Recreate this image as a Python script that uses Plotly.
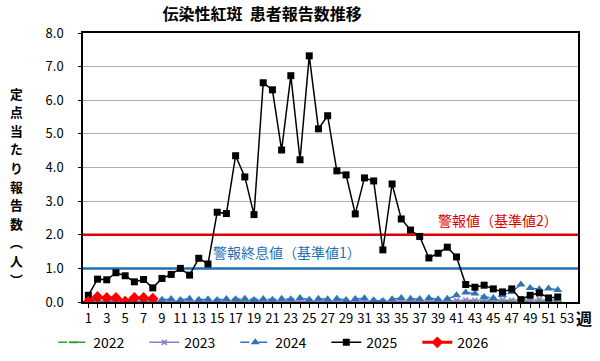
import plotly.graph_objects as go

weeks = list(range(1, 54))

y2022 = [0.00, 0.01, 0.00, 0.01, 0.00, 0.01, 0.00, 0.01, 0.00, 0.01, 0.01, 0.00, 0.01, 0.00, 0.01, 0.00, 0.01, 0.01,
         0.00, 0.01, 0.00, 0.01, 0.00, 0.01, 0.00, 0.01, 0.00, 0.01, 0.00, 0.01, 0.00, 0.01, 0.00, 0.01, 0.00, 0.01,
         0.00, 0.01, 0.00, 0.01, 0.00, 0.01, 0.00, 0.01, 0.00, 0.01, 0.00, 0.01, 0.00, 0.01, 0.00, 0.01]
y2023 = [0.02, 0.03, 0.02, 0.03, 0.02, 0.02, 0.03, 0.02, 0.03, 0.02, 0.03, 0.02, 0.03, 0.02, 0.03, 0.02, 0.05, 0.04,
         0.05, 0.03, 0.02, 0.03, 0.02, 0.03, 0.02, 0.03, 0.02, 0.03, 0.02, 0.03, 0.02, 0.02, 0.02, 0.03, 0.02, 0.03,
         0.02, 0.03, 0.02, 0.03, 0.04, 0.06, 0.05, 0.06, 0.05, 0.06, 0.05, 0.07, 0.06, 0.07, 0.06, 0.05]
y2024 = [0.05, 0.08, 0.06, 0.08, 0.05, 0.07, 0.06, 0.08, 0.07, 0.09, 0.06, 0.10, 0.07, 0.08, 0.06, 0.09, 0.08, 0.10,
         0.06, 0.09, 0.07, 0.10, 0.08, 0.12, 0.07, 0.10, 0.08, 0.10, 0.06, 0.09, 0.11, 0.05, 0.03, 0.08, 0.12, 0.10,
         0.09, 0.12, 0.08, 0.10, 0.20, 0.28, 0.25, 0.15, 0.12, 0.20, 0.30, 0.52, 0.42, 0.38, 0.40, 0.36]
y2025 = [0.20, 0.68, 0.66, 0.87, 0.78, 0.60, 0.67, 0.42, 0.70, 0.82, 1.00, 0.80, 1.30, 1.13, 2.67, 2.63, 4.35, 3.72,
         2.60, 6.52, 6.31, 4.52, 6.73, 4.23, 7.32, 5.15, 5.54, 3.90, 3.78, 2.62, 3.69, 3.60, 1.55, 3.51, 2.47, 2.14,
         1.95, 1.31, 1.45, 1.63, 1.34, 0.52, 0.44, 0.50, 0.39, 0.30, 0.39, 0.07, 0.20, 0.27, 0.12, 0.15]
y2026 = [0.01, 0.15, 0.12, 0.12, 0.01, 0.12, 0.12, 0.10]

alarm = 2.0
alarm_end = 1.0
title = "伝染性紅斑  患者報告数推移"
ytitle = "定点当たり報告数︵人︶"

FONT = "Noto Sans CJK JP"
RED = "#e00000"
BLUE = "#1f6fb4"

fig = go.Figure()

# reference lines (drawn first, under the data)
span = [weeks[0] - 2, weeks[-1] + 3]
for val, col in [(alarm, RED), (alarm_end, BLUE)]:
    fig.add_trace(go.Scatter(x=span, y=[val, val], mode="lines", showlegend=False, hoverinfo="skip",
                             line=dict(color=col, width=2.5)))

fig.add_trace(go.Scatter(x=weeks[:len(y2022)], y=y2022, name="2022", mode="lines+markers",
                         line=dict(color="#2ca02c", width=1.5, dash="dash"),
                         marker=dict(symbol="line-ew", size=6, line=dict(color="#2ca02c", width=2))))
fig.add_trace(go.Scatter(x=weeks[:len(y2023)], y=y2023, name="2023", mode="lines+markers",
                         line=dict(color="#8e7cc3", width=1.5),
                         marker=dict(symbol="x-thin", size=5, line=dict(color="#8e7cc3", width=1.5))))
fig.add_trace(go.Scatter(x=weeks[:len(y2024)], y=y2024, name="2024", mode="lines+markers",
                         line=dict(color="#2e75b6", width=1.5, dash="dash"),
                         marker=dict(symbol="triangle-up", size=8, color="#2e75b6")))
fig.add_trace(go.Scatter(x=weeks[:len(y2025)], y=y2025, name="2025", mode="lines+markers",
                         line=dict(color="black", width=1.5),
                         marker=dict(symbol="square", size=7, color="black")))
fig.add_trace(go.Scatter(x=weeks[:len(y2026)], y=y2026, name="2026", mode="lines+markers",
                         line=dict(color="#ff0000", width=3),
                         marker=dict(symbol="diamond", size=9, color="#ff0000")))

fig.add_annotation(x=0.963, xref="paper", y=alarm + 0.44, yref="y", text="警報値（基準値2）",
                   showarrow=False, xanchor="right", yanchor="middle",
                   font=dict(family=FONT, size=14, color=RED))
fig.add_annotation(x=0.258, xref="paper", y=alarm_end + 0.5, yref="y", text="警報終息値（基準値1）",
                   showarrow=False, xanchor="left", yanchor="middle",
                   font=dict(family=FONT, size=14, color=BLUE))

# vertical (stacked) y-axis title, one character per line
plot_top, plot_h = 33, 269
first_px, step_px = 93, 18.6
for i, ch in enumerate(ytitle):
    ypx = first_px + i * step_px
    fig.add_annotation(x=-0.135, xref="paper", y=1 - (ypx - plot_top) / plot_h, yref="paper",
                       xanchor="center", yanchor="middle", borderpad=0,
                       text="<b>" + ch + "</b>", showarrow=False,
                       font=dict(family=FONT, size=12.8, color="black"))

fig.add_annotation(x=1.012, xref="paper", y=-0.06, yref="paper", text="<b>週</b>",
                   xanchor="center", yanchor="middle",
                   showarrow=False, font=dict(family=FONT, size=16, color="black"))

tickvals = weeks
ticktext = [str(w) if w % 2 == 1 else "" for w in weeks]

fig.update_layout(
    width=600, height=361,
    margin=dict(l=83, r=22, t=33, b=59, autoexpand=False),
    paper_bgcolor="white", plot_bgcolor="white",
    title=dict(text="<b>" + title + "</b>", x=0.437, xanchor="center", y=0.975, yanchor="top",
               font=dict(family=FONT, size=16, color="black")),
    font=dict(family=FONT, size=13, color="black"),
    xaxis=dict(range=[0.42, 54.2], tickvals=tickvals, ticktext=ticktext, ticks="outside",
               ticklen=4, tickcolor="black", showgrid=False, showline=True, linecolor="black",
               linewidth=1.5, mirror=True, zeroline=False, tickangle=0,
               tickfont=dict(family=FONT, size=13)),
    yaxis=dict(range=[0, 8], dtick=1, tickformat=".1f", ticks="outside", ticklen=3,
               tickcolor="black", showgrid=True, gridcolor="#b0b0b0", gridwidth=1,
               showline=True, linecolor="black", linewidth=1.5, mirror=True, zeroline=False,
               ticklabelstandoff=12, tickfont=dict(family=FONT, size=13)),
    legend=dict(orientation="h", x=-0.06, xanchor="left", y=-0.092, yanchor="top",
                font=dict(family=FONT, size=14), entrywidth=46, entrywidthmode="pixels",
                traceorder="normal"),
    showlegend=True,
)

fig.write_html("out.html", config={"displayModeBar": False},
               post_script="document.body.style.margin='0';")
